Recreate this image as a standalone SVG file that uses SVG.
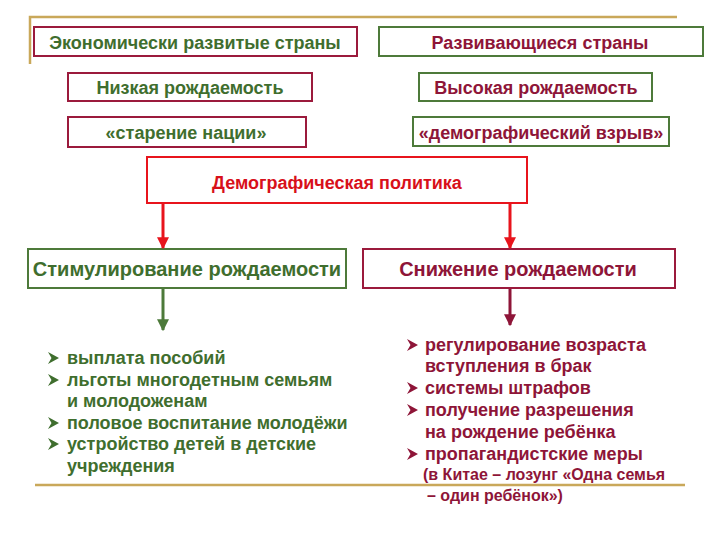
<svg xmlns="http://www.w3.org/2000/svg" width="720" height="540" viewBox="0 0 720 540">
<defs>
<style>
text{font-family:"Liberation Sans",Arial,sans-serif;font-weight:bold}
.bx{fill:#fff;stroke-width:2}
.r{stroke:#9b1a3c}
.g{stroke:#4d7a3a}
.tg{fill:#3f6e2e}
.tr{fill:#8e1538}
.c{text-anchor:middle}
.t1{font-size:18px}
.t2{font-size:20px}
.li{font-size:18px}
.sm{font-size:16px}
.gold{stroke:#c9a85a;stroke-width:2.5;fill:none}
</style>
<marker id="ar" viewBox="0 0 10 10" refX="9" refY="5" markerWidth="4" markerHeight="4" orient="auto" markerUnits="strokeWidth"><path d="M0,0L10,5L0,10z" fill="#e8141c"/></marker>
<marker id="ag" viewBox="0 0 10 10" refX="9" refY="5" markerWidth="4" markerHeight="4" orient="auto" markerUnits="strokeWidth"><path d="M0,0L10,5L0,10z" fill="#4d7a3a"/></marker>
<marker id="ad" viewBox="0 0 10 10" refX="9" refY="5" markerWidth="4" markerHeight="4" orient="auto" markerUnits="strokeWidth"><path d="M0,0L10,5L0,10z" fill="#8e1538"/></marker>
<path id="bul" d="M0,-6L11,0L0,6L3.5,0z"/>
</defs>
<rect width="720" height="540" fill="#fff"/>
<path class="gold" d="M30,64V17H677"/>
<path class="gold" d="M35,485H685"/>

<g id="n1"><rect class="bx r" x="34" y="27" width="323" height="29"/><text class="t1 tg c" x="195" y="48.5">Экономически развитые страны</text></g>
<g id="n2"><rect class="bx g" x="379" y="27" width="324" height="29"/><text class="t1 tr c" x="540" y="48.5">Развивающиеся страны</text></g>
<g id="n3"><rect class="bx r" x="68" y="73" width="244" height="28"/><text class="t1 tg c" x="190" y="93.5">Низкая рождаемость</text></g>
<g id="n4"><rect class="bx g" x="419" y="73" width="233" height="28"/><text class="t1 tr c" x="536" y="93.5">Высокая рождаемость</text></g>
<g id="n5"><rect class="bx r" x="68" y="117" width="238" height="30"/><text class="t1 tg c" x="186" y="139">«старение нации»</text></g>
<g id="n6"><rect class="bx g" x="413" y="117" width="256" height="29"/><text class="t1 tr c" x="541" y="138.5">«демографический взрыв»</text></g>
<g id="n7"><rect class="bx" x="147" y="157" width="380" height="46" stroke="#e8141c"/><text class="t1 c" fill="#d8101a" x="337" y="188.5">Демографическая политика</text></g>
<g id="n8"><rect class="bx g" x="28" y="249" width="318" height="39"/><text class="t2 tg c" x="187" y="275.5">Стимулирование рождаемости</text></g>
<g id="n9"><rect class="bx r" x="363" y="249" width="312" height="39"/><text class="t2 tr c" x="518" y="275.5">Снижение рождаемости</text></g>

<g id="connectors">
<line x1="163" y1="203" x2="163" y2="248" stroke="#e8141c" stroke-width="3" marker-end="url(#ar)"/>
<line x1="510" y1="203" x2="510" y2="248" stroke="#e8141c" stroke-width="3" marker-end="url(#ar)"/>
<line x1="163" y1="289" x2="163" y2="330" stroke="#4d7a3a" stroke-width="3" marker-end="url(#ag)"/>
<line x1="510" y1="289" x2="510" y2="325" stroke="#8e1538" stroke-width="3" marker-end="url(#ad)"/>
</g>

<g id="list-left" class="li tg">
<use href="#bul" x="48" y="358" fill="#3f6e2e"/><text x="67" y="364">выплата пособий</text>
<use href="#bul" x="48" y="380" fill="#3f6e2e"/><text x="67" y="386">льготы многодетным семьям</text>
<text x="67" y="407">и молодоженам</text>
<use href="#bul" x="48" y="423" fill="#3f6e2e"/><text x="67" y="429">половое воспитание молодёжи</text>
<use href="#bul" x="48" y="444" fill="#3f6e2e"/><text x="67" y="450">устройство детей в детские</text>
<text x="67" y="472">учреждения</text>
</g>

<g id="list-right" class="li tr">
<use href="#bul" x="407" y="345" fill="#8e1538"/><text x="425" y="351">регулирование возраста</text>
<text x="425" y="372">вступления в брак</text>
<use href="#bul" x="407" y="388" fill="#8e1538"/><text x="425" y="394">системы штрафов</text>
<use href="#bul" x="407" y="410" fill="#8e1538"/><text x="425" y="416">получение разрешения</text>
<text x="425" y="438">на рождение ребёнка</text>
<use href="#bul" x="407" y="454" fill="#8e1538"/><text x="425" y="460">пропагандистские меры</text>
<text class="sm" x="423" y="479.5">(в Китае – лозунг «Одна семья</text>
<text class="sm" x="427" y="500.5">– один ребёнок»)</text>
</g>
</svg>
